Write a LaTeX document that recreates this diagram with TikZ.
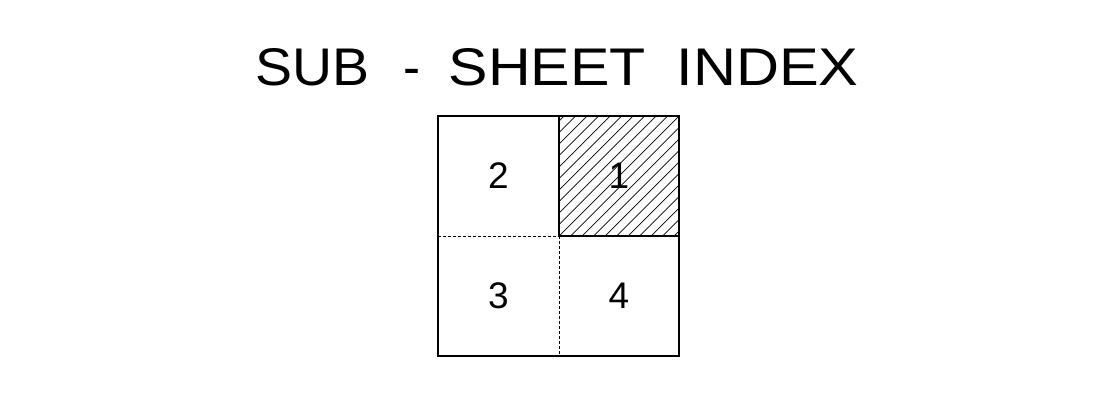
\documentclass[tikz,border=0pt]{standalone}
\usepackage{fontspec}
\setmainfont{Liberation Sans}
\newsavebox\boxsub
\newsavebox\boxdash
\newsavebox\boxsheet
\newsavebox\boxindex
\newcommand\titlefontsize{\fontsize{53pt}{60pt}\selectfont}
\begin{document}
\sbox\boxsub{\titlefontsize SUB}%
\sbox\boxdash{\titlefontsize -}%
\sbox\boxsheet{\titlefontsize SHEET}%
\sbox\boxindex{\titlefontsize INDEX}%
\pgfmathsetmacro\sxsub{114/\wd\boxsub}%
\pgfmathsetmacro\sxdash{17/\wd\boxdash}%
\pgfmathsetmacro\sxsheet{197/\wd\boxsheet}%
\pgfmathsetmacro\sxindex{182/\wd\boxindex}%
\begin{tikzpicture}[x=1pt,y=-1pt,
  frame/.style={line width=1.2pt,draw=black},
  divsolid/.style={line width=1.1pt,draw=black},
  divdash/.style={line width=1pt,draw=black,dash pattern=on 3pt off 2pt},
  hatch/.style={line width=0.7pt,draw=black},
  digit/.style={font=\fontsize{37pt}{40pt}\selectfont,inner sep=0pt},
  titletext/.style={anchor=base west,inner sep=0pt}]
\useasboundingbox (0,0) rectangle (1102,392);
\fill[white] (0,0) rectangle (1102,392);
\node[titletext] (wsub) at (255.5,85) {\scalebox{\sxsub}[1]{\usebox\boxsub}};
\node[titletext] (wdash) at (403.5,85) {\scalebox{\sxdash}[1]{\usebox\boxdash}};
\node[titletext] (wsheet) at (448.5,85) {\scalebox{\sxsheet}[1]{\usebox\boxsheet}};
\node[titletext] (windex) at (676.5,85) {\scalebox{\sxindex}[1]{\usebox\boxindex}};
\coordinate (tl) at (438,116);
\coordinate (tr) at (679,116);
\coordinate (bl) at (438,356);
\coordinate (br) at (679,356);
\coordinate (mt) at (559,116);
\coordinate (mb) at (559,356);
\coordinate (ml) at (438,236);
\coordinate (mr) at (679,236);
\coordinate (mm) at (559,236);
% hatching of sub-sheet 1
\begin{scope}
  \clip (mm) rectangle (tr);
  \foreach \i in {-12,...,12}
    \draw[hatch] (559+\i*11.5,236) -- ++(140,-140);
\end{scope}
% dividers
\draw[divdash] (ml) -- (mm);
\draw[divdash] (mm) -- (mb);
\draw[divsolid] (mm) -- (mr);
\draw[divsolid] (mt) -- (mm);
\draw[frame] (tl) rectangle (br);
% numbers
\node[digit] (n2) at (498.5,176) {2};
\node[digit] (n1) at (619,176) {1};
\node[digit] (n3) at (498.5,296) {3};
\node[digit] (n4) at (619,296) {4};
\end{tikzpicture}
\end{document}
